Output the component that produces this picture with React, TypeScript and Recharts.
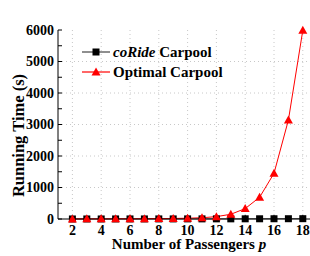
import { LineChart, Line, XAxis, YAxis, CartesianGrid, Label } from 'recharts';

const passengers = [2, 3, 4, 5, 6, 7, 8, 9, 10, 11, 12, 13, 14, 15, 16, 17, 18];
const coRide = [1, 1, 1, 2, 2, 2, 3, 3, 4, 4, 5, 5, 6, 7, 8, 9, 10];
const optimal = [3, 4, 5, 6, 8, 10, 13, 17, 25, 40, 75, 150, 330, 690, 1450, 3140, 5990];

const xTicks = [2, 4, 6, 8, 10, 12, 14, 16, 18];
const yTicks = [0, 500, 1000, 1500, 2000, 2500, 3000, 3500, 4000, 4500, 5000, 5500, 6000];
const gridY = [1000, 2000, 3000, 4000, 5000];

const data = passengers.map((p, i) => ({ p, coRide: coRide[i], optimal: optimal[i] }));

const FONT = '"Liberation Serif", "Times New Roman", serif';
const tickStyle = { fontFamily: FONT, fontWeight: 'bold', fontSize: 14, fill: '#000' };

// legend sits inside the plot, drawn over the chart
const LegendBox = () => (
    <div style={{ position: 'absolute', left: 82, top: 42, fontFamily: FONT, fontWeight: 'bold', fontSize: 15, color: '#000', lineHeight: '20px' }}>
        <div style={{ display: 'flex', alignItems: 'center' }}>
            <svg width={31} height={20}>
                <line x1={0} y1={10} x2={28} y2={10} stroke="#444" strokeWidth={1.2} />
                <rect x={10.5} y={6.5} width={7} height={7} fill="#000" />
            </svg>
            <span><i>coRide</i> Carpool</span>
        </div>
        <div style={{ display: 'flex', alignItems: 'center' }}>
            <svg width={31} height={20}>
                <line x1={0} y1={10} x2={28} y2={10} stroke="#ff0000" strokeWidth={1.2} />
                <polygon points="14,5.5 18.5,13.5 9.5,13.5" fill="#ff0000" />
            </svg>
            <span>Optimal Carpool</span>
        </div>
    </div>
);

const Square = (props: any) => {
    const { cx, cy } = props;
    if (cx == null || cy == null) return null;
    return <rect x={cx - 3.5} y={cy - 3.5} width={7} height={7} fill="#000" />;
};

const Triangle = (props: any) => {
    const { cx, cy } = props;
    if (cx == null || cy == null) return null;
    return <polygon points={`${cx},${cy - 4.5} ${cx + 4.5},${cy + 3.5} ${cx - 4.5},${cy + 3.5}`} fill="#ff0000" />;
};

export default function App() {
    return (
        <div style={{ position: 'absolute', left: 0, top: 0, width: 310, height: 256, overflow: 'hidden', background: '#fff' }}>
            <LineChart width={320} height={256} data={data} margin={{ top: 30, right: 10, left: 0, bottom: 0 }}>
                <CartesianGrid
                    stroke="#c8c8c8"
                    strokeDasharray="1 3"
                    verticalValues={xTicks}
                    horizontalValues={gridY}
                />
                <XAxis
                    dataKey="p"
                    type="number"
                    domain={[1, 18.5]}
                    ticks={xTicks}
                    height={37}
                    tickSize={-4}
                    tickMargin={10}
                    tick={tickStyle}
                    stroke="#000"
                    interval={0}
                >
                    <Label
                        value="Number of Passengers"
                        content={() => (
                            <text x={189} y={249} textAnchor="middle" style={{ fontFamily: FONT, fontWeight: 'bold', fontSize: 15 }}>
                                Number of Passengers <tspan fontStyle="italic">p</tspan>
                            </text>
                        )}
                    />
                </XAxis>
                <XAxis
                    xAxisId="top"
                    dataKey="p"
                    type="number"
                    orientation="top"
                    domain={[1, 18.5]}
                    ticks={xTicks}
                    height={0}
                    tickSize={-4}
                    tick={false}
                    stroke="#666"
                />
                <YAxis
                    type="number"
                    domain={[0, 6000]}
                    ticks={yTicks}
                    interval={0}
                    width={58}
                    tickSize={-4}
                    tickMargin={8}
                    tick={tickStyle}
                    tickFormatter={(v: number) => (v % 1000 === 0 ? String(v) : '')}
                    stroke="#000"
                >
                    <Label
                        value="Running Time (s)"
                        angle={-90}
                        position="center"
                        dx={-11}
                        dy={11}
                        style={{ fontFamily: FONT, fontWeight: 'bold', fontSize: 16.5, fill: '#000' }}
                    />
                </YAxis>
                <Line
                    dataKey="coRide"
                    stroke="#444"
                    strokeWidth={1}
                    dot={<Square />}
                    isAnimationActive={false}
                />
                <Line
                    dataKey="optimal"
                    stroke="#ff0000"
                    strokeWidth={1}
                    dot={<Triangle />}
                    isAnimationActive={false}
                />
            </LineChart>
            <LegendBox />
        </div>
    );
}
